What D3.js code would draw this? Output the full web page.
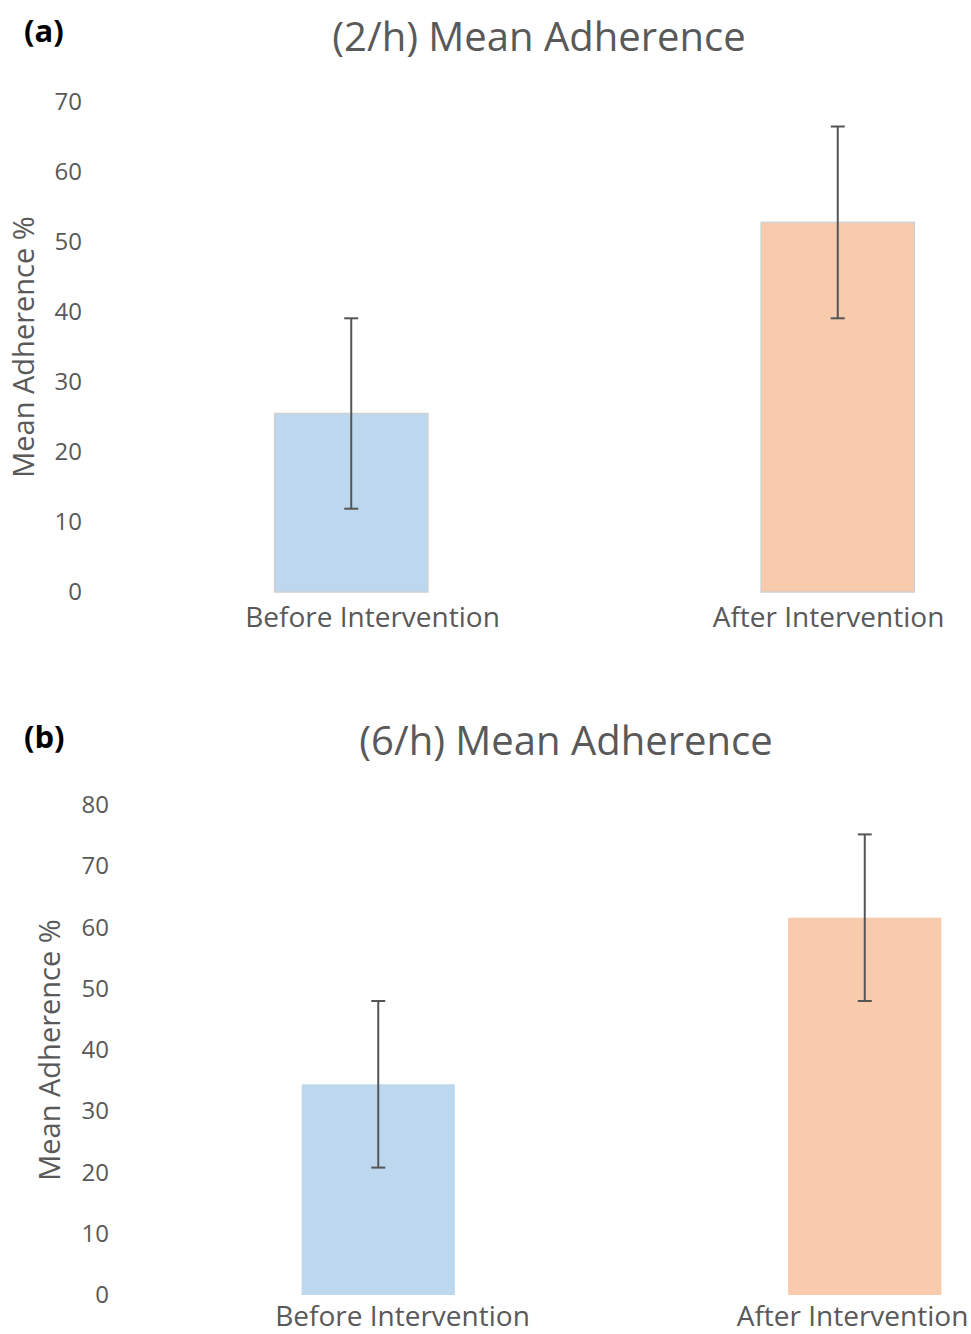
<!DOCTYPE html>
<html>
<head>
<meta charset="utf-8">
<script src="https://cdn.jsdelivr.net/npm/d3@7"></script>
<style>
  body { margin: 0; background: #fff; }
  text { font-family: "Open Sans", "Noto Sans", sans-serif; fill: #595959; }
</style>
</head>
<body>
<script>
var categories = ["Before Intervention", "After Intervention"];
var colors = ["#bdd7ee", "#f8cbad"];

// (2/h) panel
var mean2h = [25.5, 52.8];
var err2h = [13.6, 13.7];
var ticks2h = [0, 10, 20, 30, 40, 50, 60, 70];

// (6/h) panel
var mean6h = [34.4, 61.6];
var err6h = [13.6, 13.6];
var ticks6h = [0, 10, 20, 30, 40, 50, 60, 70, 80];

var width = 971, height = 1334;

var svg = d3.select("body").append("svg")
    .attr("width", width)
    .attr("height", height);

function drawPanel(opt) {
  var g = svg.append("g");

  var x = d3.scaleBand()
      .domain(categories)
      .range(opt.xRange)
      .paddingInner(0.685)
      .paddingOuter(0.3425);

  // labels sit a bit off the bar centres in the original
  var xl = d3.scalePoint()
      .domain(categories)
      .range(opt.labelRange);

  var y = d3.scaleLinear()
      .domain([0, d3.max(opt.ticks)])
      .range(opt.yRange);

  // panel letter
  g.append("text")
      .attr("x", 24)
      .attr("y", opt.letterY)
      .style("font-size", "31px")
      .style("font-weight", "bold")
      .style("fill", "#000")
      .text(opt.letter);

  // title
  g.append("text")
      .attr("x", opt.titleX)
      .attr("y", opt.titleY)
      .attr("text-anchor", "middle")
      .style("font-size", "40px")
      .text(opt.title);

  // y axis
  var yAxis = g.append("g")
      .attr("transform", "translate(" + opt.yAxisX + ",0)")
      .call(d3.axisLeft(y).tickValues(opt.ticks).tickSize(0).tickPadding(0));
  yAxis.select(".domain").remove();
  yAxis.selectAll("text")
      .style("font-size", "24px")
      .style("fill", "#595959");

  // y label
  g.append("text")
      .attr("transform", "translate(" + opt.yLabelX + "," + (opt.yRange[0] + opt.yRange[1]) / 2 + ") rotate(-90)")
      .attr("text-anchor", "middle")
      .style("font-size", "29px")
      .text("Mean Adherence %");

  // bars
  g.selectAll("rect.bar")
      .data(opt.means)
      .enter()
      .append("rect")
      .attr("class", "bar")
      .attr("x", function(d, i) { return x(categories[i]); })
      .attr("y", function(d) { return y(d); })
      .attr("width", x.bandwidth())
      .attr("height", function(d) { return y(0) - y(d); })
      .attr("fill", function(d, i) { return colors[i]; })
      .attr("stroke", opt.barStroke)
      .attr("stroke-width", 1.5);

  // error bars
  var eb = g.selectAll("g.err")
      .data(opt.means)
      .enter()
      .append("g")
      .attr("class", "err")
      .attr("stroke", "#555")
      .attr("stroke-width", 2);
  eb.append("line")
      .attr("x1", function(d, i) { return x(categories[i]) + x.bandwidth() / 2; })
      .attr("x2", function(d, i) { return x(categories[i]) + x.bandwidth() / 2; })
      .attr("y1", function(d, i) { return y(d + opt.errs[i]); })
      .attr("y2", function(d, i) { return y(d - opt.errs[i]); });
  [1, -1].forEach(function(s) {
    eb.append("line")
        .attr("x1", function(d, i) { return x(categories[i]) + x.bandwidth() / 2 - 7; })
        .attr("x2", function(d, i) { return x(categories[i]) + x.bandwidth() / 2 + 7; })
        .attr("y1", function(d, i) { return y(d + s * opt.errs[i]); })
        .attr("y2", function(d, i) { return y(d + s * opt.errs[i]); });
  });

  // x axis labels
  var xAxis = g.append("g")
      .attr("transform", "translate(0," + opt.yRange[0] + ")")
      .call(d3.axisBottom(xl).tickSize(0).tickPadding(0));
  xAxis.select(".domain").remove();
  xAxis.selectAll("text")
      .attr("dy", null)
      .attr("y", opt.labelDy)
      .style("font-size", "28px")
      .style("fill", "#595959");
}

drawPanel({
  letter: "(a)", letterY: 42,
  title: "(2/h) Mean Adherence", titleX: 539, titleY: 51,
  means: mean2h, errs: err2h, ticks: ticks2h,
  xRange: [108, 1081], labelRange: [372, 828], labelDy: 35,
  yRange: [592, 102], yAxisX: 82, yLabelX: 34,
  barStroke: "#d0d0d0"
});

drawPanel({
  letter: "(b)", letterY: 748,
  title: "(6/h) Mean Adherence", titleX: 566, titleY: 755,
  means: mean6h, errs: err6h, ticks: ticks6h,
  xRange: [135, 1108], labelRange: [402, 852], labelDy: 31,
  yRange: [1295, 805], yAxisX: 109, yLabelX: 60,
  barStroke: "none"
});
</script>
</body>
</html>
